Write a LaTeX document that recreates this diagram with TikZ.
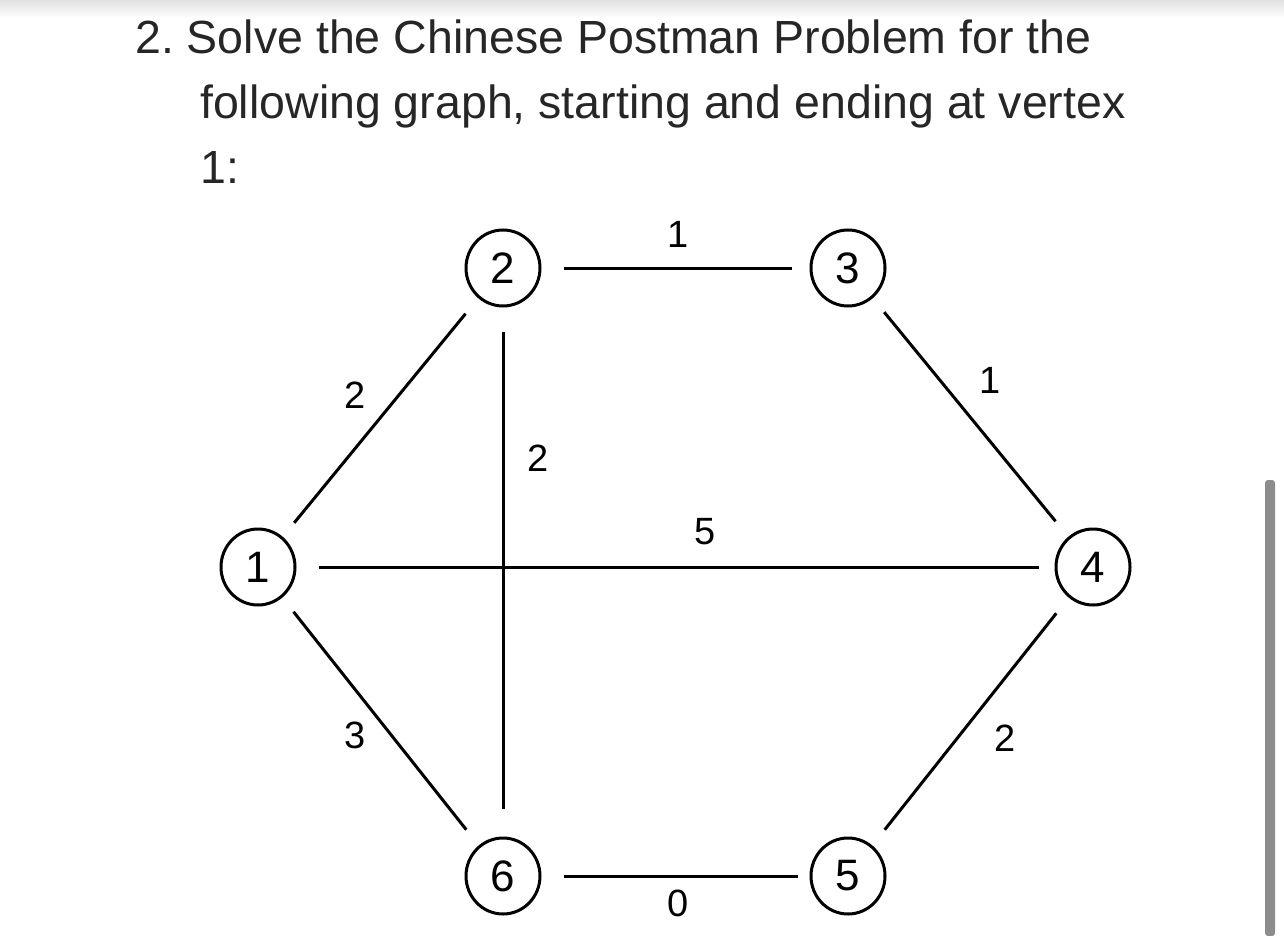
\documentclass[tikz,border=0pt]{standalone}
\usepackage{fontspec}
\usetikzlibrary{shapes.geometric}
\setmainfont{Liberation Sans}
\begin{document}
\begin{tikzpicture}[x=1pt,y=-1pt,
  vtx/.style={draw,line width=3pt,ellipse,minimum width=74pt,minimum height=76pt,inner sep=0pt,font=\fontsize{44}{44}\selectfont},
  edge/.style={line width=3pt},
  wlab/.style={font=\fontsize{38}{38}\selectfont},
  hdr/.style={anchor=base west,inner sep=0pt,font=\fontsize{46.5}{46.5}\selectfont,text=black!85}]
\useasboundingbox (0,0) rectangle (1284,936);
\shade[top color=black!12,bottom color=white] (0,0) rectangle (1284,18);
\fill[black!45,rounded corners=3pt] (1265,480) rectangle (1275,936);
\node[hdr] (h1) at (135,54) {2.\ Solve the Chinese Postman Problem for the};
\node[hdr] (h2) at (200,119) {following graph, starting and ending at vertex};
\node[hdr] (h3) at (200,184) {1:};
\node[vtx] (n1) at (258,567) {1};
\node[vtx] (n2) at (503,268) {2};
\node[vtx] (n3) at (848,268) {3};
\node[vtx] (n4) at (1093,567) {4};
\node[vtx] (n5) at (848,876) {5};
\node[vtx] (n6) at (503,876) {6};
\draw[edge,shorten <=22pt,shorten >=18pt] (n2) -- (n3);
\draw[edge,shorten <=22pt,shorten >=16pt] (n1) -- (n4);
\draw[edge,shorten <=24pt,shorten >=28pt] (n2) -- (n6);
\draw[edge,shorten <=18pt,shorten >=20pt] (n1) -- (n2);
\draw[edge,shorten <=18pt,shorten >=20pt] (n3) -- (n4);
\draw[edge,shorten <=18pt,shorten >=20pt] (n1) -- (n6);
\draw[edge,shorten <=20pt,shorten >=20pt] (n4) -- (n5);
\draw[edge,shorten <=22pt,shorten >=12pt] (n6) -- (n5);
\node[wlab] (l23) at (678,234) {1};
\node[wlab] (l12) at (355,395) {2};
\node[wlab] (l26) at (538,458) {2};
\node[wlab] (l34) at (990,380) {1};
\node[wlab] (l14) at (705,532) {5};
\node[wlab] (l16) at (355,735) {3};
\node[wlab] (l45) at (1005,738) {2};
\node[wlab] (l65) at (678,903) {0};
\end{tikzpicture}
\end{document}
